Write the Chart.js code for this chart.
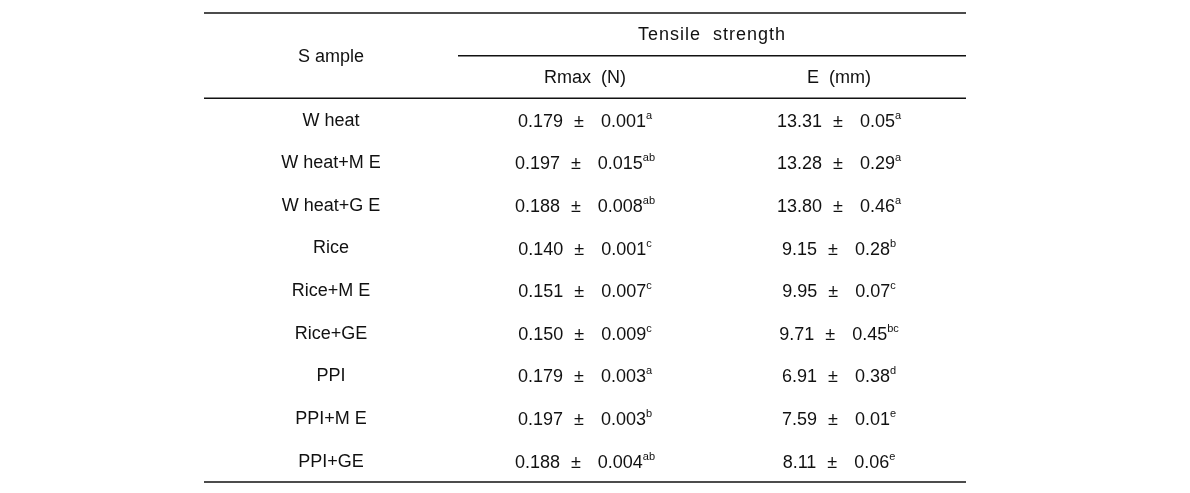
<!DOCTYPE html>
<html>
<head>
<meta charset="utf-8">
<script src="https://cdn.jsdelivr.net/npm/chart.js@4"></script>
<style>
  body { margin: 0; background: #fff; }
  #wrap { width: 1190px; height: 493px; }
</style>
</head>
<body>
<div id="wrap"><canvas id="tableChart" width="1190" height="493"></canvas></div>
<script>
// dữ liệu bảng
const columns = ['Sample', 'Rmax (N)', 'E (mm)'];
const groupHeader = 'Tensile  strength';
const samples = ['W heat', 'W heat+M E', 'W heat+G E', 'Rice', 'Rice+M E', 'Rice+GE', 'PPI', 'PPI+M E', 'PPI+GE'];
const rmaxMean = ['0.179', '0.197', '0.188', '0.140', '0.151', '0.150', '0.179', '0.197', '0.188'];
const rmaxSd = ['0.001', '0.015', '0.008', '0.001', '0.007', '0.009', '0.003', '0.003', '0.004'];
const rmaxSig = ['a', 'ab', 'ab', 'c', 'c', 'c', 'a', 'b', 'ab'];
const eMean = ['13.31', '13.28', '13.80', '9.15', '9.95', '9.71', '6.91', '7.59', '8.11'];
const eSd = ['0.05', '0.29', '0.46', '0.28', '0.07', '0.45', '0.38', '0.01', '0.06'];
const eSig = ['a', 'a', 'a', 'b', 'c', 'bc', 'd', 'e', 'e'];

const rowKeys = ['h1', 'h2'].concat(samples);

const FONT = '18px "Liberation Sans", Arial, sans-serif';
const SUP_FONT = '11px "Liberation Sans", Arial, sans-serif';

function drawValue(ctx, cx, cy, mean, sd, sig) {
    ctx.font = FONT;
    const wMean = ctx.measureText(mean).width;
    const wPm = ctx.measureText('±').width;
    const wSd = ctx.measureText(sd).width;
    ctx.font = SUP_FONT;
    const wSig = ctx.measureText(sig).width;
    const gap1 = 11, gap2 = 17;
    const total = wMean + gap1 + wPm + gap2 + wSd + wSig;
    let x = cx - total / 2;
    ctx.font = FONT;
    ctx.textAlign = 'left';
    ctx.textBaseline = 'alphabetic';
    const base = cy + 7;
    ctx.fillText(mean, x, base); x += wMean + gap1;
    ctx.fillText('±', x, base); x += wPm + gap2;
    ctx.fillText(sd, x, base); x += wSd;
    ctx.font = SUP_FONT;
    ctx.fillText(sig, x, base - 8);
}

// plugin vẽ bảng dựa trên các scale của Chart.js
const tablePlugin = {
    id: 'tablePlugin',
    afterDraw(chart) {
        const ctx = chart.ctx;
        const xs = chart.scales.x;
        const ys = chart.scales.y;
        const area = chart.chartArea;
        const rowH = ys.getPixelForValue(1) - ys.getPixelForValue(0);
        const colW = xs.getPixelForValue(1) - xs.getPixelForValue(0);
        ctx.save();
        ctx.fillStyle = '#111';
        ctx.strokeStyle = '#111';
        ctx.lineWidth = 1.5;

        // các đường kẻ ngang
        const hLine = (y, x0, x1) => {
            ctx.beginPath();
            ctx.moveTo(x0, y);
            ctx.lineTo(x1, y);
            ctx.stroke();
        };
        hLine(area.top, area.left, area.right);
        hLine(ys.getPixelForValue(0) + rowH / 2, xs.getPixelForValue(1) - colW / 2, area.right);
        hLine(ys.getPixelForValue(1) + rowH / 2, area.left, area.right);
        hLine(area.bottom, area.left, area.right);

        // tiêu đề
        ctx.font = FONT;
        ctx.textAlign = 'center';
        ctx.textBaseline = 'middle';
        ctx.fillText('S ample', xs.getPixelForValue(0), ys.getPixelForValue(0) + rowH / 2 + 1);
        ctx.letterSpacing = '1px';
        ctx.fillText(groupHeader, (xs.getPixelForValue(1) + xs.getPixelForValue(2)) / 2, ys.getPixelForValue(0) + 1);
        ctx.letterSpacing = '0px';
        ctx.fillText('Rmax  (N)', xs.getPixelForValue(1), ys.getPixelForValue(1) + 1);
        ctx.fillText('E  (mm)', xs.getPixelForValue(2), ys.getPixelForValue(1) + 1);

        // các dòng dữ liệu
        samples.forEach((s, i) => {
            const cy = ys.getPixelForValue(i + 2);
            ctx.font = FONT;
            ctx.textAlign = 'center';
            ctx.textBaseline = 'middle';
            ctx.fillText(s, xs.getPixelForValue(0), cy + 1);
            drawValue(ctx, xs.getPixelForValue(1), cy, rmaxMean[i], rmaxSd[i], rmaxSig[i]);
            drawValue(ctx, xs.getPixelForValue(2), cy, eMean[i], eSd[i], eSig[i]);
        });
        ctx.restore();
    }
};

const ctx = document.getElementById('tableChart').getContext('2d');
window.myChart = new Chart(ctx, {
    type: 'scatter',
    data: { datasets: [{ data: [] }] },
    options: {
        responsive: false,
        animation: false,
        layout: { padding: { left: 204, right: 224, top: 13, bottom: 11 } },
        plugins: { legend: { display: false }, tooltip: { enabled: false } },
        scales: {
            x: { type: 'category', labels: columns, offset: true, display: false },
            y: { type: 'category', labels: rowKeys, offset: true, display: false }
        }
    },
    plugins: [tablePlugin]
});
</script>
</body>
</html>
